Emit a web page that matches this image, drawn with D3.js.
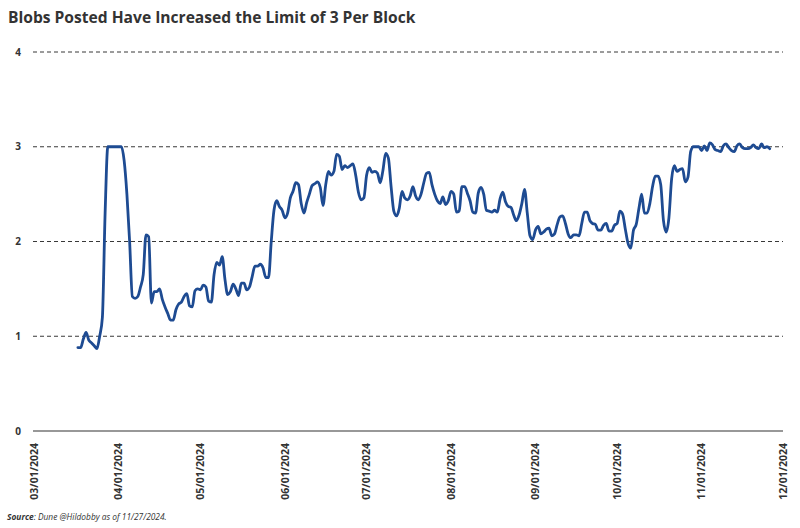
<!DOCTYPE html>
<html><head><meta charset="utf-8">
<script src="https://cdn.jsdelivr.net/npm/d3@7"></script>
<style>
body{margin:0;background:#fff;}
text{font-family:"Open Sans",sans-serif;}
</style></head>
<body><svg id="chart" width="800" height="528"></svg>
<script>
const title = "Blobs Posted Have Increased the Limit of 3 Per Block";
const startDate = "2024-03-17"; // first daily observation
const blobsPerBlock = [
0.88,0.88,0.97,1.04,0.96,0.93,0.90,0.87,1.00,1.20,2.30,3.00,3.00,3.00,3.00,3.00,3.00,2.85,2.50,2.00,
1.42,1.40,1.42,1.52,1.65,2.07,2.05,1.35,1.47,1.47,1.50,1.39,1.31,1.24,1.17,1.17,1.28,1.34,1.36,1.42,
1.45,1.32,1.31,1.48,1.50,1.49,1.54,1.52,1.37,1.36,1.65,1.78,1.75,1.84,1.60,1.44,1.47,1.55,1.50,1.43,
1.56,1.56,1.49,1.52,1.63,1.74,1.74,1.76,1.72,1.62,1.62,2.00,2.33,2.43,2.37,2.33,2.25,2.30,2.46,2.53,
2.62,2.60,2.40,2.30,2.41,2.50,2.59,2.61,2.63,2.57,2.38,2.60,2.74,2.70,2.74,2.92,2.90,2.76,2.80,2.78,
2.80,2.82,2.70,2.52,2.44,2.46,2.70,2.78,2.73,2.74,2.72,2.62,2.75,2.93,2.88,2.58,2.32,2.27,2.35,2.53,
2.46,2.44,2.48,2.58,2.48,2.44,2.50,2.62,2.72,2.73,2.60,2.50,2.43,2.40,2.47,2.39,2.43,2.53,2.50,2.31,
2.32,2.58,2.58,2.51,2.43,2.31,2.30,2.51,2.57,2.50,2.33,2.32,2.31,2.33,2.31,2.45,2.52,2.42,2.37,2.36,
2.28,2.22,2.28,2.40,2.55,2.30,2.06,2.02,2.12,2.16,2.08,2.10,2.13,2.14,2.06,2.08,2.18,2.26,2.27,2.19,
2.08,2.04,2.07,2.07,2.06,2.19,2.31,2.31,2.22,2.19,2.18,2.12,2.12,2.17,2.19,2.11,2.11,2.17,2.19,2.32,
2.29,2.13,1.98,1.93,2.12,2.18,2.35,2.50,2.30,2.30,2.40,2.58,2.69,2.69,2.60,2.22,2.10,2.25,2.66,2.80,
2.74,2.76,2.77,2.63,2.68,2.95,3.00,3.00,3.00,2.96,3.01,2.96,3.04,3.02,2.97,2.96,2.95,3.01,3.03,2.99,
2.96,2.95,3.01,3.03,2.99,2.98,2.98,2.99,3.02,2.99,2.98,3.03,2.99,3.00,2.98
];
const yTicks = [0,1,2,3,4];
const xTickLabels = ["03/01/2024","04/01/2024","05/01/2024","06/01/2024","07/01/2024","08/01/2024","09/01/2024","10/01/2024","11/01/2024","12/01/2024"];
const sourceLabel = "Source";
const sourceText = ": Dune @Hildobby as of 11/27/2024.";

const parse = d3.timeParse("%m/%d/%Y");
const start = d3.timeParse("%Y-%m-%d")(startDate);
const data = blobsPerBlock.map((v,i)=>({date:d3.timeDay.offset(start,i), v}));

const svg = d3.select("#chart");
const x = d3.scaleTime().domain([parse(xTickLabels[0]), parse(xTickLabels[xTickLabels.length-1])]).range([34.3,783.3]);
const y = d3.scaleLinear().domain([0,4]).range([431,52]);

svg.append("text").attr("x",8).attr("y",23).attr("font-size",15.6).attr("font-weight",700)
  .attr("fill","#333").text(title);

// gridlines
const gx0 = 33, gx1 = 783;
svg.append("g").selectAll("line").data(yTicks.filter(t=>t>0)).join("line")
  .attr("x1",gx0).attr("x2",gx1).attr("y1",d=>y(d)).attr("y2",d=>y(d))
  .attr("stroke","#222").attr("stroke-width",0.9).attr("stroke-dasharray","4,3");
svg.append("line").attr("x1",gx0).attr("x2",gx1).attr("y1",y(0)).attr("y2",y(0))
  .attr("stroke","#333").attr("stroke-width",1.2);

// y labels
svg.append("g").selectAll("text").data(yTicks).join("text")
  .attr("x",18).attr("y",d=>y(d)).attr("dy","0.35em").attr("text-anchor","middle")
  .attr("font-size",10).attr("font-weight",700).attr("fill","#333").text(d=>d);

// x labels
svg.append("g").selectAll("text").data(xTickLabels).join("text")
  .attr("transform",d=>`translate(${x(parse(d))},443) rotate(-90)`)
  .attr("dy","0.35em").attr("text-anchor","end")
  .attr("font-size",10.5).attr("font-weight",700).attr("fill","#333").text(d=>d);

// line
svg.append("path").datum(data)
  .attr("d", d3.line().x(d=>x(d.date)).y(d=>y(d.v)).curve(d3.curveMonotoneX))
  .attr("fill","none").attr("stroke","#1e4b92").attr("stroke-width",2.8)
  .attr("stroke-linejoin","round").attr("stroke-linecap","round");

// source
const s = svg.append("text").attr("x",7).attr("y",520).attr("font-size",8.4).attr("font-style","italic").attr("fill","#333");
s.append("tspan").attr("font-weight",700).text(sourceLabel);
s.append("tspan").text(sourceText);
</script></body></html>
